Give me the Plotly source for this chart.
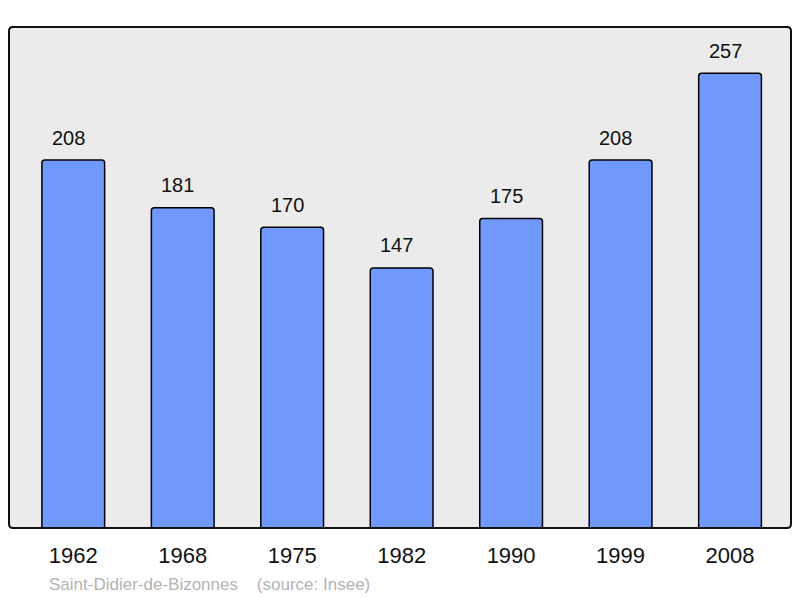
import plotly.graph_objects as go

years = ["1962", "1968", "1975", "1982", "1990", "1999", "2008"]
population = [208, 181, 170, 147, 175, 208, 257]
caption = "Saint-Didier-de-Bizonnes    (source: Insee)"

W, H = 800, 598
ML, MR, MT, MB = 9, 9, 27, 70
pw, ph = W - ML - MR, H - MT - MB

fig = go.Figure()
fig.add_trace(go.Bar(
    x=list(range(len(years))), y=population,
    width=0.573,
    marker=dict(color="#7099ff", line=dict(color="#000000", width=1.5), cornerradius=3),
    hoverinfo="skip",
))

for i, v in enumerate(population):
    fig.add_annotation(x=i, y=v, text=str(v), showarrow=False, yanchor="bottom",
                       yshift=9.5, xshift=-5,
                       font=dict(size=20, color="#111111", family="Liberation Sans, Arial, sans-serif"))

fig.add_annotation(xref="paper", yref="paper", x=(47 - ML) / pw, y=-(584 - (MT + ph)) / ph,
                   xanchor="left", yanchor="middle", text=caption, showarrow=False,
                   font=dict(size=17, color="#b3b3b3", family="Liberation Sans, Arial, sans-serif"))

# rounded border
rx, ry = 4 / pw, 4 / ph
path = (f"M {rx},0 L {1-rx},0 Q 1,0 1,{ry} L 1,{1-ry} Q 1,1 {1-rx},1 "
        f"L {rx},1 Q 0,1 0,{1-ry} L 0,{ry} Q 0,0 {rx},0 Z")
fig.add_shape(type="path", xref="paper", yref="paper", path=path,
              line=dict(color="#111111", width=2), layer="above")

fig.update_layout(
    width=W, height=H,
    margin=dict(l=ML, r=MR, t=MT, b=MB, pad=0),
    paper_bgcolor="#ffffff", plot_bgcolor="#ebebeb",
    showlegend=False,
    font=dict(family="Liberation Sans, Arial, sans-serif"),
    xaxis=dict(range=[-0.587, 6.557], tickmode="array", tickvals=list(range(len(years))),
               ticktext=years, showgrid=False, zeroline=False, showline=False,
               ticks="outside", ticklen=8, tickcolor="rgba(0,0,0,0)",
               tickfont=dict(size=22, color="#111111")),
    yaxis=dict(range=[0, 283.2], showgrid=False, zeroline=False, showticklabels=False, showline=False),
)

fig.write_html("out.html", config={"displayModeBar": False},
               post_script="document.body.style.margin='0';document.body.style.overflow='hidden';")
